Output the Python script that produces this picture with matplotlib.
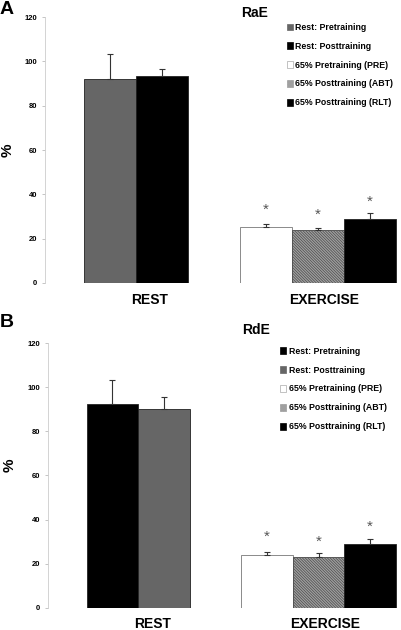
import matplotlib.pyplot as plt
from matplotlib.patches import Patch

plt.rcParams['font.family'] = ['Liberation Sans', 'DejaVu Sans']
plt.rcParams['font.weight'] = 'bold'
plt.rcParams['hatch.linewidth'] = 0.5

# panel A (RaE)
a_labels = ['Rest: Pretraining', 'Rest: Posttraining', '65% Pretraining (PRE)',
            '65% Posttraining (ABT)', '65% Posttraining (RLT)']
a_vals = [91.9, 93.4, 25.3, 24.0, 28.7]
a_err = [11.4, 3.0, 1.2, 0.9, 2.7]
a_star = [32.9, 30.7, 36.7]

# panel B (RdE)
b_labels = ['Rest: Pretraining', 'Rest: Posttraining', '65% Pretraining (PRE)',
            '65% Posttraining (ABT)', '65% Posttraining (RLT)']
b_vals = [92.4, 90.3, 24.0, 23.0, 28.8]
b_err = [11.0, 5.2, 1.2, 1.6, 2.6]
b_star = [32.3, 30.0, 36.8]

groups = ['REST', 'EXERCISE']
yticks = [0, 20, 40, 60, 80, 100, 120]

pos = [1.25, 2.25, 4.25, 5.25, 6.25]
group_pos = [2.02, 5.37]

gray = '#666666'
hatch_fc = '#a0a0a0'
hatch = '\\' * 12
a_styles = [(gray, None), ('black', None), ('white', None), (hatch_fc, hatch), ('black', None)]
b_styles = [('black', None), (gray, None), ('white', None), (hatch_fc, hatch), ('black', None)]


def panel(fig, rect, labels, vals, err, stars, styles, leg_xy):
    ax = fig.add_axes(rect)
    handles = []
    for i in range(5):
        fc, ht = styles[i]
        ec = '#777777' if fc == 'white' else '#222222'
        b = ax.bar(pos[i], vals[i], width=1.0, color=fc, edgecolor=ec, linewidth=0.6,
                   hatch=ht, zorder=2)
        if ht:
            b[0].set_edgecolor('#4a4a4a')
        ax.errorbar(pos[i], vals[i], yerr=[[0], [err[i]]], fmt='none',
                    ecolor='#333333', elinewidth=0.8, capsize=2.2, capthick=0.8, zorder=3)
        handles.append(Patch(facecolor=fc, edgecolor='#aaaaaa' if fc == 'white' else fc,
                             hatch=ht, linewidth=0.5, label=labels[i]))
    for j, s in enumerate(stars):
        ax.text(pos[j + 2], s, '*', ha='center', va='center', fontsize=11,
                color='#555555', fontweight='normal')
    ax.set_xlim(0, 6.85)
    ax.set_ylim(0, 120)
    ax.set_yticks(yticks)
    ax.set_xticks(group_pos)
    ax.set_xticklabels(groups, fontsize=10, fontweight='bold')
    ax.tick_params(axis='x', length=0, pad=7)
    ax.tick_params(axis='y', length=2.5, width=0.6, color='#bbbbbb', labelsize=5.5, pad=3)
    for lab in ax.get_yticklabels():
        lab.set_fontweight('bold')
    for s in ['top', 'right', 'bottom']:
        ax.spines[s].set_visible(False)
    ax.spines['left'].set_color('#cccccc')
    ax.spines['left'].set_linewidth(0.6)
    leg = ax.legend(handles=handles, loc='upper left', bbox_to_anchor=leg_xy,
                    bbox_transform=fig.transFigure, frameon=False, fontsize=6.3,
                    handlelength=0.7, handleheight=0.85, handletextpad=0.25,
                    labelspacing=1.12, borderaxespad=0)
    for t in leg.get_texts():
        t.set_fontweight('bold')
    return ax


fig = plt.figure(figsize=(4.01, 6.30), dpi=100)

panel(fig, [0.1122, 0.5508, 0.8878, 0.4222], a_labels, a_vals, a_err,
      a_star, a_styles, (0.707, 0.969))
panel(fig, [0.1197, 0.0354, 0.8803, 0.4197], b_labels, b_vals, b_err,
      b_star, b_styles, (0.690, 0.455))

fig.text(0.0, 0.998, 'A', fontsize=14, fontweight='bold', va='top', ha='left')
fig.text(0.0, 0.502, 'B', fontsize=14, fontweight='bold', va='top', ha='left')
fig.text(0.601, 0.990, 'RaE', fontsize=10, fontweight='bold', va='top', ha='left')
fig.text(0.604, 0.487, 'RdE', fontsize=10, fontweight='bold', va='top', ha='left')
fig.text(0.018, 0.762, '%', fontsize=11, fontweight='bold', rotation=90,
         va='center', ha='center')
fig.text(0.025, 0.262, '%', fontsize=11, fontweight='bold', rotation=90,
         va='center', ha='center')

fig.savefig('out.png', dpi=100)
